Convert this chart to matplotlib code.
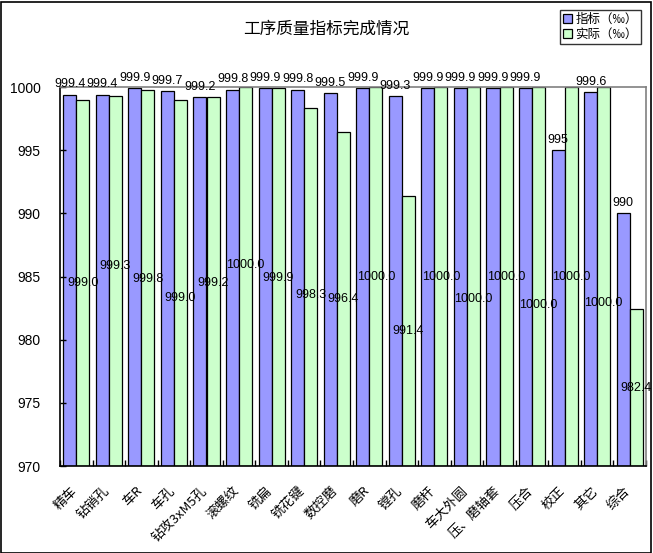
import matplotlib
matplotlib.use("Agg")
import matplotlib.pyplot as plt
from matplotlib.patches import Rectangle
from matplotlib.ticker import FixedLocator, NullFormatter
from matplotlib.transforms import ScaledTranslation
import numpy as np

plt.rcParams['font.family'] = ['Noto Sans CJK SC', 'DejaVu Sans']

categories = ["精车", "钻销孔", "车R", "车孔", "钻攻3xM5孔", "滚螺纹", "铣扁", "铣花键",
              "数控磨", "磨R", "镗孔", "磨杆", "车大外圆", "压、磨轴套", "压合", "校正",
              "其它", "综合"]
target = [999.4, 999.4, 999.9, 999.7, 999.2, 999.8, 999.9, 999.8, 999.5, 999.9,
          999.3, 999.9, 999.9, 999.9, 999.9, 995, 999.6, 990]
actual = [999.0, 999.3, 999.8, 999.0, 999.2, 1000.0, 999.9, 998.3, 996.4, 1000.0,
          991.4, 1000.0, 1000.0, 1000.0, 1000.0, 1000.0, 1000.0, 982.4]
target_labels = ["999.4", "999.4", "999.9", "999.7", "999.2", "999.8", "999.9", "999.8",
                 "999.5", "999.9", "999.3", "999.9", "999.9", "999.9", "999.9", "995",
                 "999.6", "990"]
actual_labels = ["999.0", "999.3", "999.8", "999.0", "999.2", "1000.0", "999.9", "998.3",
                 "996.4", "1000.0", "991.4", "1000.0", "1000.0", "1000.0", "1000.0",
                 "1000.0", "1000.0", "982.4"]
legend_labels = ["指标（‰）", "实际（‰）"]
title = "工序质量指标完成情况"
y_min, y_max, y_step = 970, 1000, 5

# label vertical nudges (pixels, positive = downward) to mimic hand-placed labels
actual_nudge_px = [0, -15, 1, 15, 1, -12, 1, 8, 0, 0, 0, 0, 22, 0, 28, 0, 26, 0]

W, H = 653, 553
fig = plt.figure(figsize=(W / 100, H / 100), dpi=100)
fig.patch.set_facecolor("white")
fig.add_artist(Rectangle((0.5 / W, 0.5 / H), 1 - 2.5 / W, 1 - 2.5 / H,
                         transform=fig.transFigure, fill=False,
                         edgecolor="black", lw=1.2))

ax = fig.add_axes([60 / W, 1 - 466 / H, (646 - 60) / W, (466 - 87) / H])
x = np.arange(len(categories))
bw = 0.4
blue, green = "#9999FF", "#CCFFCC"
num_font = "Liberation Sans"

bt = ax.bar(x - bw / 2, np.array(target) - y_min, bw, bottom=y_min, color=blue,
            edgecolor="black", lw=0.9, label=legend_labels[0])
ba = ax.bar(x + bw / 2, np.array(actual) - y_min, bw, bottom=y_min, color=green,
            edgecolor="black", lw=0.9, label=legend_labels[1])

ax.set_xlim(-0.5, len(categories) - 0.5)
ax.set_ylim(y_min, y_max)

for xi, v, lab in zip(x, target, target_labels):
    ax.annotate(lab, (xi - bw / 2, v), xytext=(0, 3), textcoords="offset points",
                ha="center", va="bottom", fontsize=9, family=num_font,
                annotation_clip=False)
for xi, v, lab, nd in zip(x, actual, actual_labels, actual_nudge_px):
    ax.annotate(lab, (xi + bw / 2, (v + y_min) / 2), xytext=(0, -nd * 0.72),
                textcoords="offset points", ha="center", va="center",
                fontsize=9, family=num_font, annotation_clip=False)

# spines
for s in ["top", "right"]:
    ax.spines[s].set_color("#808080")
    ax.spines[s].set_linewidth(1.2)
for s in ["left", "bottom"]:
    ax.spines[s].set_color("black")
    ax.spines[s].set_linewidth(1.2)

yt = np.arange(y_min, y_max + 1, y_step)
ax.set_yticks(yt)
ax.set_yticklabels([str(v) for v in yt], fontsize=10, family=num_font)
ax.tick_params(axis="y", direction="in", length=4, width=1, pad=14)

ax.set_xticks(x)
ax.set_xticklabels(categories, rotation=45, ha="right", va="top",
                   rotation_mode="anchor", fontsize=9.5)
ax.tick_params(axis="x", which="major", length=0, pad=13)
shift = ScaledTranslation(-6 / 100, 0, fig.dpi_scale_trans)
for lbl in ax.get_xticklabels():
    lbl.set_transform(lbl.get_transform() + shift)
ax.xaxis.set_minor_locator(FixedLocator(np.arange(len(categories) + 1) - 0.5))
ax.xaxis.set_minor_formatter(NullFormatter())
ax.tick_params(axis="x", which="minor", direction="in", length=4, width=1)

fig.text(326 / W, 1 - 29 / H, title, ha="center", va="center", fontsize=12)

leg = fig.legend(handles=[bt, ba], labels=legend_labels, loc="upper right",
                 bbox_to_anchor=(641 / W, 1 - 10 / H), fontsize=9,
                 frameon=True, fancybox=False, handlelength=0.7, handleheight=0.7,
                 borderpad=0.25, labelspacing=0.15, handletextpad=0.3,
                 borderaxespad=0)
leg.get_frame().set_edgecolor("black")
leg.get_frame().set_linewidth(1.0)

fig.savefig("out.png", dpi=100, facecolor="white")
